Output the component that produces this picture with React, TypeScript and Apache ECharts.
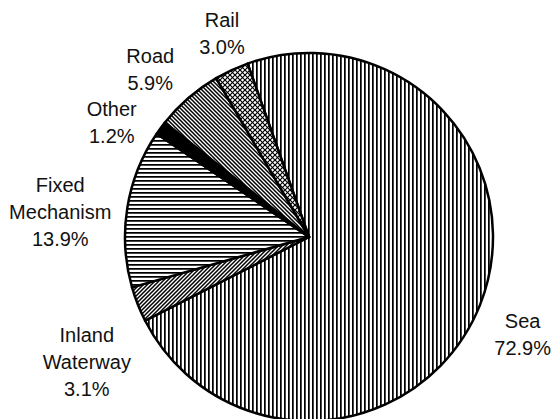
import React, { useEffect, useRef } from "react";
import * as echarts from "echarts";

// ---- data ----
const categories = ["Sea", "Inland\nWaterway", "Fixed\nMechanism", "Other", "Road", "Rail"];
const shares = [72.9, 3.1, 13.9, 1.2, 5.9, 3.0];
const hatchKinds = ["vertical", "diagUp", "horizontal", "solid", "diagDown", "cross"];

// ---- label placement (polar offsets from the pie centre) ----
const labelRadius = [235, 255, 250, 228, 231, 221];
const labelAngleShift = [2.9, -7.9, -3.4, -6.2, -2.5, 1.7];

const W = 557;
const H = 419;
const CX = 309;
const CY = 237;
const R = 184;
const START_ANGLE = 109.5;

function makePattern(kind: string): any {
  if (kind === "solid") return "#000";
  const size = kind === "cross" ? 5 : 4;
  const c = document.createElement("canvas");
  c.width = size;
  c.height = size;
  const g = c.getContext("2d")!;
  g.fillStyle = "#fff";
  g.fillRect(0, 0, size, size);
  if (kind === "vertical") {
    g.fillStyle = "#000";
    g.fillRect(0, 0, 1, size);
    g.fillStyle = "#444";
    g.fillRect(1, 0, 1, size);
  } else if (kind === "horizontal") {
    g.fillStyle = "#000";
    g.fillRect(0, 0, size, 1);
    g.fillStyle = "#444";
    g.fillRect(0, 1, size, 1);
  } else {
    g.strokeStyle = "#000";
    g.lineWidth = kind === "cross" ? 1.2 : 1.5;
    const up = () => {
      g.beginPath();
      for (let k = -1; k <= 1; k++) {
        g.moveTo(k * size - 1, size + 1);
        g.lineTo(k * size + size + 1, -1);
      }
      g.stroke();
    };
    const down = () => {
      g.beginPath();
      for (let k = -1; k <= 1; k++) {
        g.moveTo(k * size - 1, -1);
        g.lineTo(k * size + size + 1, size + 1);
      }
      g.stroke();
    };
    if (kind === "diagUp") up();
    else if (kind === "diagDown") down();
    else {
      up();
      down();
    }
  }
  return {
    image: c.toDataURL(),
    imageWidth: size,
    imageHeight: size,
    repeat: "repeat",
  };
}

export default function App() {
  const ref = useRef<HTMLDivElement>(null);

  useEffect(() => {
    if (!ref.current) return;
    const chart = echarts.init(ref.current, null, { renderer: "svg" });

    const total = shares.reduce((a, b) => a + b, 0);
    const startClock = 90 - START_ANGLE; // degrees clockwise from 12 o'clock
    const midAngles: number[] = [];
    let acc = startClock;
    shares.forEach((v) => {
      const span = (v / total) * 360;
      midAngles.push(acc + span / 2);
      acc += span;
    });

    chart.setOption({
      animation: false,
      backgroundColor: "#fff",
      series: [
        {
          type: "pie",
          center: [CX, CY],
          radius: R,
          startAngle: START_ANGLE,
          clockwise: true,
          avoidLabelOverlap: false,
          silent: true,
          itemStyle: { borderColor: "#000", borderWidth: 2.5 },
          labelLine: { show: false },
          label: {
            show: true,
            position: "outside",
            color: "#111",
            fontFamily: "Liberation Sans, Arial, Helvetica, sans-serif",
            fontSize: 20,
            lineHeight: 27,
            formatter: (p: any) => `${p.name}\n${Number(p.value).toFixed(1)}%`,
          },
          labelLayout: (params: any) => {
            const i = params.dataIndex;
            const a = ((midAngles[i] + labelAngleShift[i]) * Math.PI) / 180;
            const r = labelRadius[i];
            return {
              x: CX + r * Math.sin(a),
              y: CY - r * Math.cos(a),
              align: "center",
              verticalAlign: "middle",
            };
          },
          emphasis: { disabled: true },
          data: categories.map((name, i) => ({
            name,
            value: shares[i],
            itemStyle: { color: makePattern(hatchKinds[i]) },
          })),
        },
      ],
    });

    return () => chart.dispose();
  }, []);

  return (
    <div
      ref={ref}
      style={{ position: "fixed", left: 0, top: 0, width: W, height: H, background: "#fff" }}
    />
  );
}
